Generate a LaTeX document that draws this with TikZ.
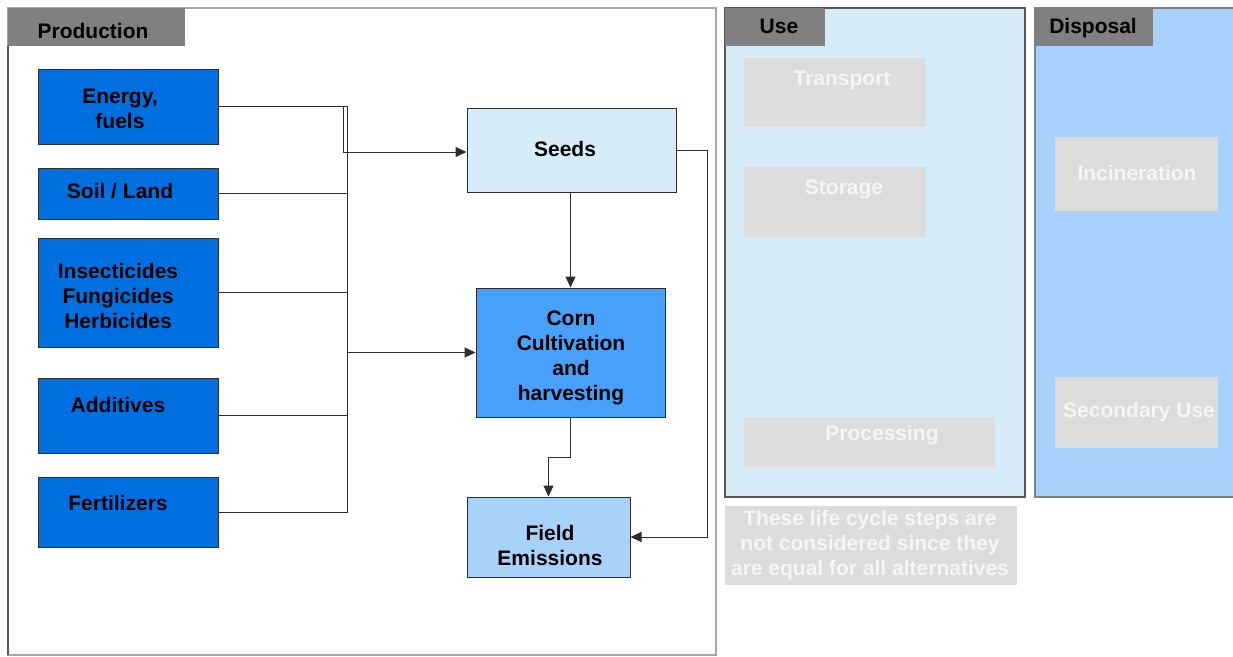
\documentclass[tikz,border=0pt]{standalone}
\usepackage{fontspec}
\setmainfont{Liberation Sans}
\usetikzlibrary{arrows.meta,positioning,calc}
\definecolor{inputblue}{RGB}{0,112,224}
\definecolor{cornblue}{RGB}{71,161,250}
\definecolor{fieldblue}{RGB}{169,210,251}
\definecolor{paleblue}{RGB}{214,236,248}
\definecolor{dispblue}{RGB}{168,210,252}
\definecolor{tabgrey}{RGB}{128,128,128}
\definecolor{stepgrey}{RGB}{220,220,220}
\definecolor{steptext}{RGB}{246,246,246}
\definecolor{linegrey}{RGB}{45,45,45}
\tikzset{
  x=1pt, y=-1pt,
  txt/.style={font=\bfseries\fontsize{21}{25}\selectfont, align=center, inner sep=0pt},
  box/.style={draw=linegrey, line width=1pt, inner sep=0pt, txt},
  frame/.style={draw=tabgrey, line width=1.2pt},
  tab/.style={fill=tabgrey, inner sep=0pt, txt},
  greystep/.style={fill=stepgrey, inner sep=0pt, txt, text=steptext},
  conn/.style={draw=linegrey, line width=1pt},
  arr/.style={conn, -{Triangle[length=11pt,width=10pt]}}
}
\begin{document}
\begin{tikzpicture}
\useasboundingbox (0,0) rectangle (1233,656);

% ---- life-cycle frames ----
\draw[frame, draw=tabgrey!70] (8,8) rectangle (716,655);
\draw[draw=linegrey!80, line width=1.2pt] (8,46) -- (8,655);
\node[tab, minimum width=177, minimum height=38, anchor=north west] (ptab) at (8,8) {};
\node[txt] at (93,31) {Production};

\draw[frame, fill=paleblue, draw=linegrey!80] (725,8) rectangle (1025,497);
\node[tab, minimum width=100, minimum height=38, anchor=north west] (utab) at (725,8) {};
\node[txt] at (779,26) {Use};

\draw[frame, fill=dispblue, draw=linegrey!60] (1035,8) rectangle (1240,497);
\node[tab, minimum width=118, minimum height=38, anchor=north west] (dtab) at (1035,8) {};
\node[txt] at (1093,28) {Disposal};

% ---- production inputs ----
\node[box, fill=inputblue, minimum width=180, minimum height=75] (energy) at (128,106.5) {};
\node[txt] at (120,109) {Energy,\\fuels};
\node[box, fill=inputblue, minimum width=180, minimum height=51] (soil) at (128,193.5) {};
\node[txt] at (120,191) {Soil / Land};
\node[box, fill=inputblue, minimum width=180, minimum height=109] (pest) at (128,292.5) {};
\node[txt] at (118,296) {Insecticides\\Fungicides\\Herbicides};
\node[box, fill=inputblue, minimum width=180, minimum height=75] (add) at (128,415.5) {};
\node[txt] at (118,405) {Additives};
\node[box, fill=inputblue, minimum width=180, minimum height=70] (fert) at (128,512) {};
\node[txt] at (118,503) {Fertilizers};

% ---- production steps ----
\node[box, fill=paleblue, minimum width=209, minimum height=84] (seeds) at (571.5,150) {};
\node[txt] at (565,149) {Seeds};
\node[box, fill=cornblue, minimum width=189, minimum height=129] (corn) at (570.5,352.5) {};
\node[txt] at (571,358) {Corn\\Cultivation\\and\\harvesting};
\node[box, fill=fieldblue, minimum width=163, minimum height=80] (field) at (548.5,537) {};
\node[txt] at (550,545) {Field\\Emissions};

% ---- steps outside the system boundary ----
\node[greystep, minimum width=182, minimum height=69, anchor=north west] (transport) at (744,58) {};
\node[txt, text=steptext] at (842,80) {Transport};
\node[greystep, minimum width=182, minimum height=70, anchor=north west] (storage) at (744,167) {};
\node[txt, text=steptext] at (844,189) {Storage};
\node[greystep, minimum width=251, minimum height=50, anchor=north west] (processing) at (744,417) {};
\node[txt, text=steptext] at (882,435) {Processing};
\node[greystep, minimum width=163, minimum height=74, anchor=north west] (incin) at (1055,137) {};
\node[txt, text=steptext] at (1137,173) {Incineration};
\node[greystep, minimum width=163, minimum height=71, anchor=north west] (second) at (1055,377) {};
\node[txt, text=steptext] at (1139,412) {Secondary Use};
\node[greystep, minimum width=292, minimum height=79, anchor=north west] (note) at (725,506) {};
\node[txt, text=steptext] at (870,545) {These life cycle steps are\\not considered since they\\are equal for all alternatives};

% ---- connectors ----
\coordinate (busTop) at (347,106.5);
\coordinate (busBot) at (347,512);
\coordinate (busOut) at (347,352.5);
\coordinate (seedJog) at (343,106.5);

\draw[conn] (energy.east) -- (busTop) -- (busBot) -- (fert.east);
\draw[conn] (soil.east) -- (soil.east -| busTop);
\draw[conn] (pest.east) -- (pest.east -| busTop);
\draw[conn] (add.east) -- (add.east -| busTop);
\draw[arr] (busOut) -- (corn.west);
\draw[arr] (seedJog) -- ($(seedJog |- seeds.west)+(0,2)$) -- ($(seeds.west)+(0,2)$);
\draw[arr] (seeds.south -| corn.north) -- (corn.north);
\draw[arr] (corn.south) -- ++(0,40) -| (field.north);
\draw[arr] (seeds.east) -- (707,150) |- (field.east);
\end{tikzpicture}
\end{document}
